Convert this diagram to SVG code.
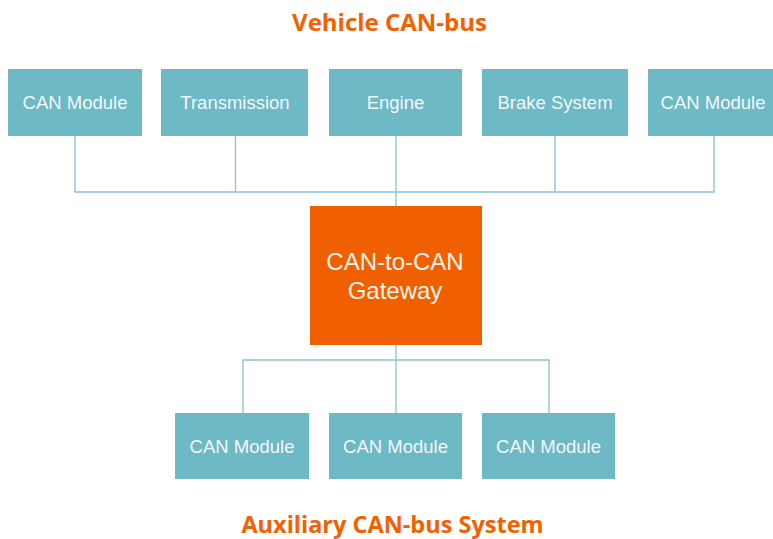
<svg xmlns="http://www.w3.org/2000/svg" width="773" height="539" viewBox="0 0 773 539">
<style>
.box{fill:#6DB9C6;}
.gw{fill:#F05F00;}
.lbl{font-family:"Liberation Sans",Arial,sans-serif;font-size:18.5px;fill:#F4F8F9;text-anchor:middle;}
.glbl{font-family:"Liberation Sans",Arial,sans-serif;font-size:24px;fill:#FFF4EC;text-anchor:middle;}
.title{font-family:"Open Sans",sans-serif;font-weight:bold;fill:#F26100;text-anchor:middle;}
.wire{fill:none;stroke:#86C4CF;stroke-width:1.3;}
</style>
<rect width="773" height="539" fill="#FFFFFF"/>
<text class="title" x="389.5" y="31" font-size="24">Vehicle CAN-bus</text>
<text class="title" x="392.5" y="533" font-size="23.5">Auxiliary CAN-bus System</text>
<g id="connectors">
<path class="wire" d="M75,136 V192 H714 V136"/>
<path class="wire" d="M235.5,136 V192"/>
<path class="wire" d="M555,136 V192"/>
<path class="wire" d="M396,136 V206"/>
<path class="wire" d="M396,345 V413"/>
<path class="wire" d="M243,413 V360 H549 V413"/>
</g>
<g id="n1"><rect class="box" x="8" y="69" width="134" height="67"/><text class="lbl" x="75" y="109">CAN Module</text></g>
<g id="n2"><rect class="box" x="161" y="69" width="147" height="67"/><text class="lbl" x="235" y="109">Transmission</text></g>
<g id="n3"><rect class="box" x="329" y="69" width="133" height="67"/><text class="lbl" x="395.5" y="109">Engine</text></g>
<g id="n4"><rect class="box" x="482" y="69" width="146" height="67"/><text class="lbl" x="555" y="109">Brake System</text></g>
<g id="n5"><rect class="box" x="648" y="69" width="130" height="67"/><text class="lbl" x="713" y="109">CAN Module</text></g>
<g id="gateway"><rect class="gw" x="310" y="206" width="172" height="139"/><text class="glbl" x="395" y="270">CAN-to-CAN</text><text class="glbl" x="395" y="299">Gateway</text></g>
<g id="b1"><rect class="box" x="175" y="413" width="134" height="66"/><text class="lbl" x="242" y="453">CAN Module</text></g>
<g id="b2"><rect class="box" x="329" y="413" width="133" height="66"/><text class="lbl" x="395.5" y="453">CAN Module</text></g>
<g id="b3"><rect class="box" x="482" y="413" width="133" height="66"/><text class="lbl" x="548.5" y="453">CAN Module</text></g>
</svg>
